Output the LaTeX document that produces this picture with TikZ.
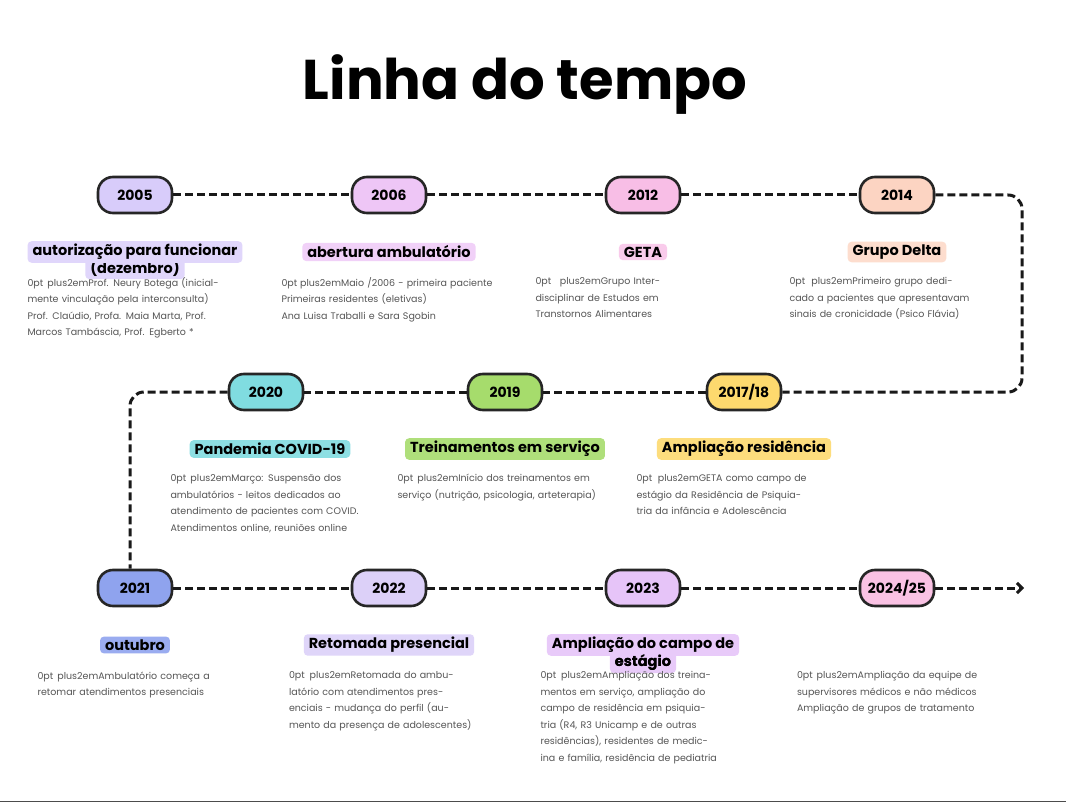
\documentclass[tikz,border=0pt]{standalone}
\usepackage{fontspec}
\setmainfont{Poppins}
\usetikzlibrary{arrows.meta}
\definecolor{c05}{HTML}{D8CCFA}
\definecolor{c06}{HTML}{EEC6F6}
\definecolor{c12}{HTML}{F8BEE6}
\definecolor{c14}{HTML}{FCD4C2}
\definecolor{c17}{HTML}{FDD96E}
\definecolor{c19}{HTML}{A6DC6C}
\definecolor{c20}{HTML}{80DCE0}
\definecolor{c21}{HTML}{8FA3EE}
\definecolor{c22}{HTML}{DCD0F8}
\definecolor{c23}{HTML}{E6C4F8}
\definecolor{c24}{HTML}{FAC2E4}
\definecolor{bodyc}{HTML}{555555}
\tikzset{
 x=1pt,y=-1pt,
 pill/.style={draw=black!85,line width=2.6pt,rounded corners=15pt,minimum width=74pt,minimum height=36pt,inner sep=2pt,font=\fontsize{14}{16}\selectfont\bfseries},
 head/.style={rounded corners=4pt,inner xsep=5pt,inner ysep=3pt,align=center,font=\fontsize{14.5}{16}\selectfont\bfseries},
 body/.style={anchor=north,align=center,text width=215pt,text=bodyc,font=\fontsize{9.5}{16.5}\selectfont\hyphenpenalty=10000\relax\exhyphenpenalty=10000\relax},
 tl/.style={line width=3pt,dash pattern=on 8pt off 4pt,black!90}
}
\begin{document}
\begin{tikzpicture}
\useasboundingbox[fill=white] (0,0) rectangle (1066,805);
\draw[black!70,line width=1pt] (0,801) -- (1066,801);
\node[font=\fontsize{56}{60}\selectfont\bfseries] (title) at (525,85) {Linha do tempo};
% pills
\node[pill,fill=c05] (p05) at (135,195) {2005};
\node[pill,fill=c06] (p06) at (389,195) {2006};
\node[pill,fill=c12] (p12) at (643,195) {2012};
\node[pill,fill=c14] (p14) at (897,195) {2014};
\node[pill,fill=c17] (p17) at (744,392) {2017/18};
\node[pill,fill=c19] (p19) at (505,392) {2019};
\node[pill,fill=c20] (p20) at (266,392) {2020};
\node[pill,fill=c21] (p21) at (135,588) {2021};
\node[pill,fill=c22] (p22) at (389,588) {2022};
\node[pill,fill=c23] (p23) at (643,588) {2023};
\node[pill,fill=c24] (p24) at (897,588) {2024/25};
\coordinate (c1) at (1022,195);
\coordinate (c2) at (1022,392);
\coordinate (c3) at (130,392);
\coordinate (c4) at (130,588);
\coordinate (end) at (1024,588);
\draw[tl] (p05) -- (p06);
\draw[tl] (p06) -- (p12);
\draw[tl] (p12) -- (p14);
\draw[tl,rounded corners=14pt] (p14.east) -- (c1) -- (c2) -- (p17.east);
\draw[tl] (p17) -- (p19);
\draw[tl] (p19) -- (p20);
\draw[tl,rounded corners=14pt] (p20.west) -- (c3) -- (p21.north -| c4);
\draw[tl] (p21) -- (p22);
\draw[tl] (p22) -- (p23);
\draw[tl] (p23) -- (p24);
\draw[tl,-{Straight Barb[length=5pt,width=10pt]}] (p24) -- (end);
% headings
\node[head,fill=c05!80] (h05b) at (135,268) {(dezembro)};
\node[head,fill=c05!80] (h05) at (135,252) {autorização para funcionar};
\node[head,fill=c06!80] (h06) at (389,252) {abertura ambulatório};
\node[head,fill=c12!80] (h12) at (643,252) {GETA};
\node[head,fill=c14!80] (h14) at (897,252) {Grupo Delta};
\node[head,fill=c17!90] (h17) at (744,449) {Ampliação residência};
\node[head,fill=c19!90] (h19) at (505,449) {Treinamentos em serviço};
\node[head,fill=c20!90] (h20) at (270,449) {Pandemia COVID-19};
\node[head,fill=c21!90] (h21) at (135,645) {outubro};
\node[head,fill=c22!90] (h22) at (389,645) {Retomada presencial};
\node[head,fill=c23!90] (h23b) at (643,662) {estágio};
\node[head,fill=c23!90] (h23) at (643,645) {Ampliação do campo de};
\node[head] (h23c) at (643,662) {estágio};
% bodies
\node[body] (b05) at (135,274) {Prof. Neury Botega (inicialmente vinculação pela interconsulta)\\Prof. Claúdio, Profa. Maia Marta, Prof. Marcos Tambáscia, Prof. Egberto *};
\node[body] (b06) at (389,274) {Maio /2006 - primeira paciente\\Primeiras residentes (eletivas)\\Ana Luisa Traballi e Sara Sgobin};
\node[body] (b12) at (643,274) {Grupo Interdisciplinar de Estudos em\\Transtornos Alimentares};
\node[body] (b14) at (897,274) {Primeiro grupo dedicado a pacientes que apresentavam sinais de cronicidade (Psico Flávia)};
\node[body] (b17) at (744,471) {GETA como campo de estágio da Residência de Psiquiatria da infância e Adolescência};
\node[body] (b19) at (505,471) {Início dos treinamentos em serviço (nutrição, psicologia, arteterapia)};
\node[body,text width=195pt] (b20) at (268,471) {Março: Suspensão dos ambulatórios - leitos dedicados ao atendimento de pacientes com COVID.\\Atendimentos online, reuniões online};
\node[body,text width=195pt] (b21) at (135,668) {Ambulatório começa a retomar atendimentos presenciais};
\node[body,text width=200pt] (b22) at (389,668) {Retomada do ambulatório com atendimentos presenciais - mudança do perfil (aumento da presença de adolescentes)};
\node[body,text width=205pt] (b23) at (643,668) {Ampliação dos treinamentos em serviço, ampliação do campo de residência em psiquiatria (R4, R3 Unicamp e de outras residências), residentes de medicina e família, residência de pediatria};
\node[body,text width=200pt] (b24) at (897,668) {Ampliação da equipe de supervisores médicos e não médicos\\Ampliação de grupos de tratamento};
\end{tikzpicture}
\end{document}
